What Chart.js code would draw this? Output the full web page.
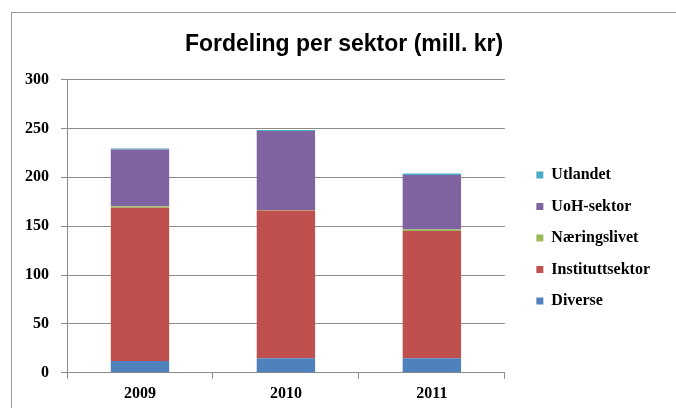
<!DOCTYPE html>
<html lang="no">
<head>
<meta charset="UTF-8">
<title>Fordeling per sektor</title>
<style>
    body { margin: 0; background: #ffffff; }
    #wrap { position: relative; width: 676px; height: 408px; }
</style>
</head>
<body>
<div id="wrap"><canvas id="chart" width="676" height="408"></canvas></div>
<script src="https://cdn.jsdelivr.net/npm/chart.js"></script>
<script>
// data
const years = ['2009', '2010', '2011'];
const diverse = [12, 15, 15];
const institutt = [157, 151, 130];
const naering = [1.5, 0.5, 1.5];
const uoh = [58, 81, 56];
const utlandet = [1, 1, 1.5];
const yTicks = [0, 50, 100, 150, 200, 250, 300];

// outer frame like the spreadsheet chart border
const frame = {
    id: 'frame',
    beforeDraw(chart) {
        const c = chart.ctx;
        c.save();
        c.fillStyle = '#ffffff';
        c.fillRect(0, 0, chart.width, chart.height);
        c.strokeStyle = '#9a9a9a';
        c.lineWidth = 1;
        c.strokeRect(11.5, 12.5, 800, 600);
        c.restore();
    }
};

// place legend and title roughly where the original has them
const placeBoxes = {
    id: 'placeBoxes',
    afterLayout(chart) {
        const lg = chart.legend;
        const area = chart.chartArea;
        const w = lg.width;
        lg.left = area.right + 16;
        lg.right = lg.left + w;
        lg.top = area.top + 72;
        lg.bottom = lg.top + 300;
        lg.height = 300;

        const t = chart.titleBlock;
        t.left = 0;
        t.right = chart.width + 12;
        t.width = t.right;
    }
};

const serif = '"Liberation Serif", "Times New Roman", serif';

new Chart(document.getElementById('chart'), {
    type: 'bar',
    data: {
        labels: years,
        datasets: [
            { label: 'Diverse', data: diverse, backgroundColor: '#4F81BD' },
            { label: 'Instituttsektor', data: institutt, backgroundColor: '#C0504D' },
            { label: 'Næringslivet', data: naering, backgroundColor: '#9BBB59' },
            { label: 'UoH-sektor', data: uoh, backgroundColor: '#8064A2' },
            { label: 'Utlandet', data: utlandet, backgroundColor: '#4BACC6' }
        ]
    },
    options: {
        responsive: false,
        animation: false,
        datasets: { bar: { categoryPercentage: 1, barPercentage: 0.4 } },
        layout: { padding: { left: 13, right: 32, top: 0, bottom: 0 } },
        plugins: {
            title: {
                display: true,
                text: 'Fordeling per sektor (mill. kr)',
                color: '#000000',
                font: { family: '"Liberation Sans", Arial, sans-serif', size: 23, weight: 'bold' },
                padding: { top: 31, bottom: 21 }
            },
            legend: {
                position: 'right',
                align: 'start',
                reverse: true,
                labels: {
                    boxWidth: 7,
                    boxHeight: 7,
                    padding: 15.5,
                    color: '#000000',
                    font: { family: serif, size: 16, weight: 'bold' }
                }
            },
            tooltip: { enabled: false }
        },
        scales: {
            x: {
                stacked: true,
                grid: { offset: true, drawOnChartArea: false, color: '#8c8c8c', tickLength: 6 },
                border: { color: '#8c8c8c' },
                ticks: { color: '#000000', padding: 5, font: { family: serif, size: 16, weight: 'bold' } }
            },
            y: {
                stacked: true,
                min: 0,
                max: 300,
                afterBuildTicks(axis) { axis.ticks = yTicks.map(v => ({ value: v })); },
                grid: { color: '#8c8c8c', tickLength: 6 },
                border: { color: '#8c8c8c' },
                ticks: { color: '#000000', padding: 12, font: { family: serif, size: 16, weight: 'bold' } }
            }
        }
    },
    plugins: [frame, placeBoxes]
});
</script>
</body>
</html>
